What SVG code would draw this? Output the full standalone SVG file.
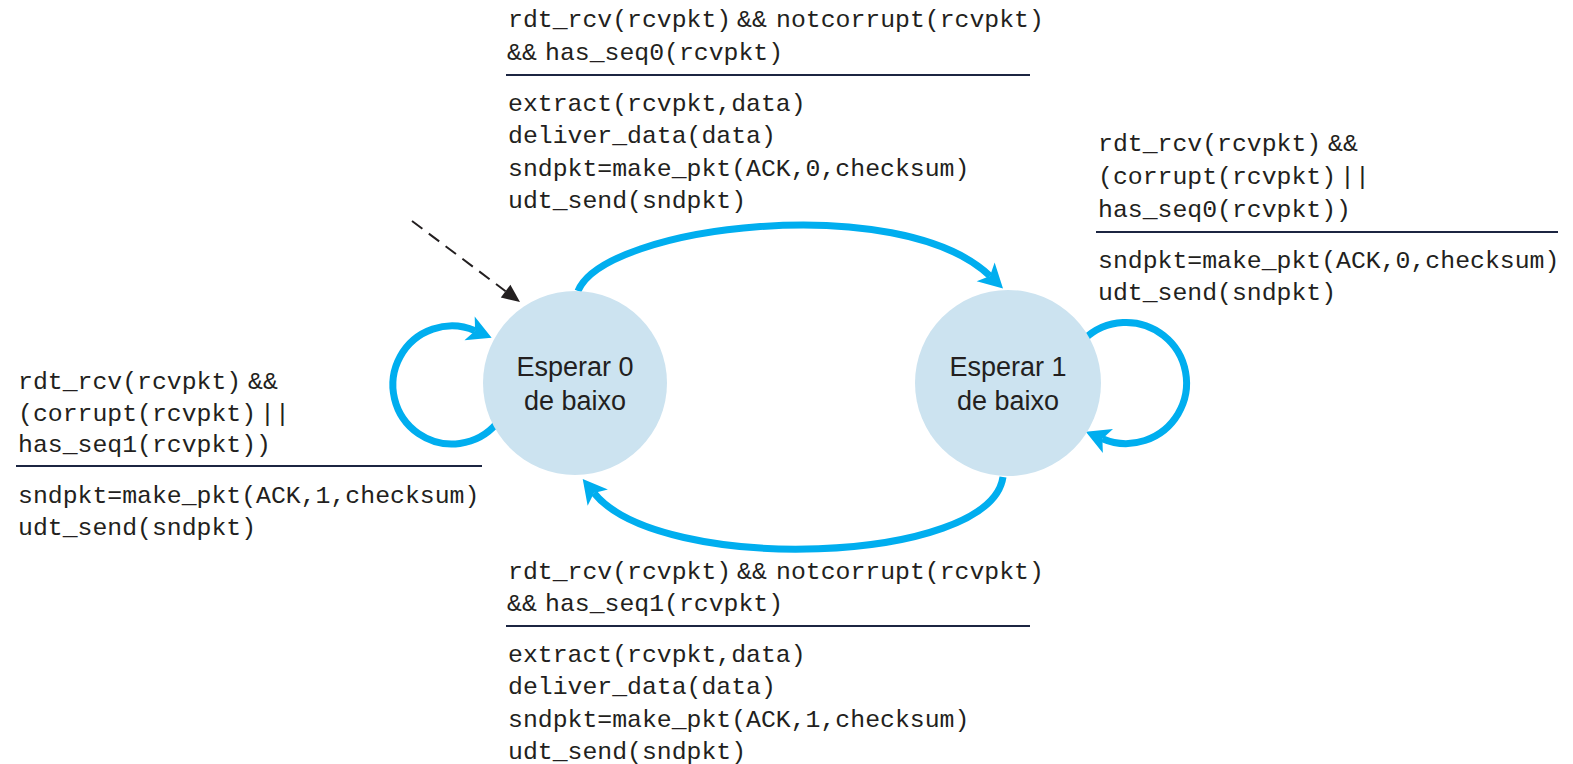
<svg xmlns="http://www.w3.org/2000/svg" width="1573" height="764" viewBox="0 0 1573 764">
<style>
.code{font-family:"Liberation Mono","DejaVu Sans Mono",monospace;font-size:24.8px;fill:#231f20}
.sep{stroke:#1c2541;stroke-width:2.2}
.st{font-family:"Liberation Sans",Arial,sans-serif;font-size:27px;fill:#231f20;text-anchor:middle}
.node{fill:#cce3f0}
.edge{fill:none;stroke:#00aeef;stroke-width:7;marker-end:url(#ab)}
</style>
<defs>
<marker id="ab" markerUnits="userSpaceOnUse" viewBox="-8 -14 28 28" markerWidth="28" markerHeight="28" refX="0" refY="0" orient="auto" overflow="visible">
<path d="M18 0 L-6 -13 L0 0 L-6 13 Z" fill="#00aeef"/>
</marker>
<marker id="ak" markerUnits="userSpaceOnUse" viewBox="-2 -10 22 20" markerWidth="22" markerHeight="20" refX="0" refY="0" orient="auto" overflow="visible">
<path d="M0 -8 L18 0 L0 8 Z" fill="#231f20"/>
</marker>
</defs>
<rect width="1573" height="764" fill="#ffffff"/>
<g id="connectors">
<path class="edge" d="M578 291 C605 225 900 190 990 276"/>
<path class="edge" d="M1003 477 C990 565 660 575 594 493"/>
<path class="edge" d="M497 423 A59 59 0 1 1 475.1 330.7"/>
<path class="edge" d="M1084 339.5 A60.5 60.5 0 1 1 1102.4 438.7"/>
<path d="M412 221 L505.6 291.2" fill="none" stroke="#231f20" stroke-width="2" stroke-dasharray="13 8" marker-end="url(#ak)"/>
</g>
<g id="wait0">
<circle class="node" cx="575" cy="383" r="92"/>
<text class="st" x="575" y="376">Esperar 0</text>
<text class="st" x="575" y="410">de baixo</text>
</g>
<g id="wait1">
<circle class="node" cx="1008" cy="383" r="93"/>
<text class="st" x="1008" y="376">Esperar 1</text>
<text class="st" x="1008" y="410">de baixo</text>
</g>
<g id="label-top">
<text class="code" y="27"><tspan x="508">rdt_rcv(rcvpkt)</tspan><tspan x="737">&amp;&amp;</tspan><tspan x="776">notcorrupt(rcvpkt)</tspan></text>
<text class="code" y="60"><tspan x="507">&amp;&amp;</tspan><tspan x="545">has_seq0(rcvpkt)</tspan></text>
<line class="sep" x1="506" y1="75" x2="1030" y2="75"/>
<text class="code" x="508" y="111">extract(rcvpkt,data)</text>
<text class="code" x="508" y="143">deliver_data(data)</text>
<text class="code" x="508" y="176">sndpkt=make_pkt(ACK,0,checksum)</text>
<text class="code" x="508" y="208">udt_send(sndpkt)</text>
</g>
<g id="label-right">
<text class="code" y="151"><tspan x="1098">rdt_rcv(rcvpkt)</tspan><tspan x="1328">&amp;&amp;</tspan></text>
<text class="code" y="184"><tspan x="1098">(corrupt(rcvpkt)</tspan><tspan x="1340">||</tspan></text>
<text class="code" x="1098" y="217">has_seq0(rcvpkt))</text>
<line class="sep" x1="1096" y1="232" x2="1558" y2="232"/>
<text class="code" x="1098" y="268">sndpkt=make_pkt(ACK,0,checksum)</text>
<text class="code" x="1098" y="300">udt_send(sndpkt)</text>
</g>
<g id="label-left">
<text class="code" y="389"><tspan x="18">rdt_rcv(rcvpkt)</tspan><tspan x="248">&amp;&amp;</tspan></text>
<text class="code" y="421"><tspan x="18">(corrupt(rcvpkt)</tspan><tspan x="260">||</tspan></text>
<text class="code" x="18" y="452">has_seq1(rcvpkt))</text>
<line class="sep" x1="16" y1="466" x2="482" y2="466"/>
<text class="code" x="18" y="503">sndpkt=make_pkt(ACK,1,checksum)</text>
<text class="code" x="18" y="535">udt_send(sndpkt)</text>
</g>
<g id="label-bottom">
<text class="code" y="579"><tspan x="508">rdt_rcv(rcvpkt)</tspan><tspan x="737">&amp;&amp;</tspan><tspan x="776">notcorrupt(rcvpkt)</tspan></text>
<text class="code" y="611"><tspan x="507">&amp;&amp;</tspan><tspan x="545">has_seq1(rcvpkt)</tspan></text>
<line class="sep" x1="506" y1="626" x2="1030" y2="626"/>
<text class="code" x="508" y="662">extract(rcvpkt,data)</text>
<text class="code" x="508" y="694">deliver_data(data)</text>
<text class="code" x="508" y="727">sndpkt=make_pkt(ACK,1,checksum)</text>
<text class="code" x="508" y="759">udt_send(sndpkt)</text>
</g>
</svg>
